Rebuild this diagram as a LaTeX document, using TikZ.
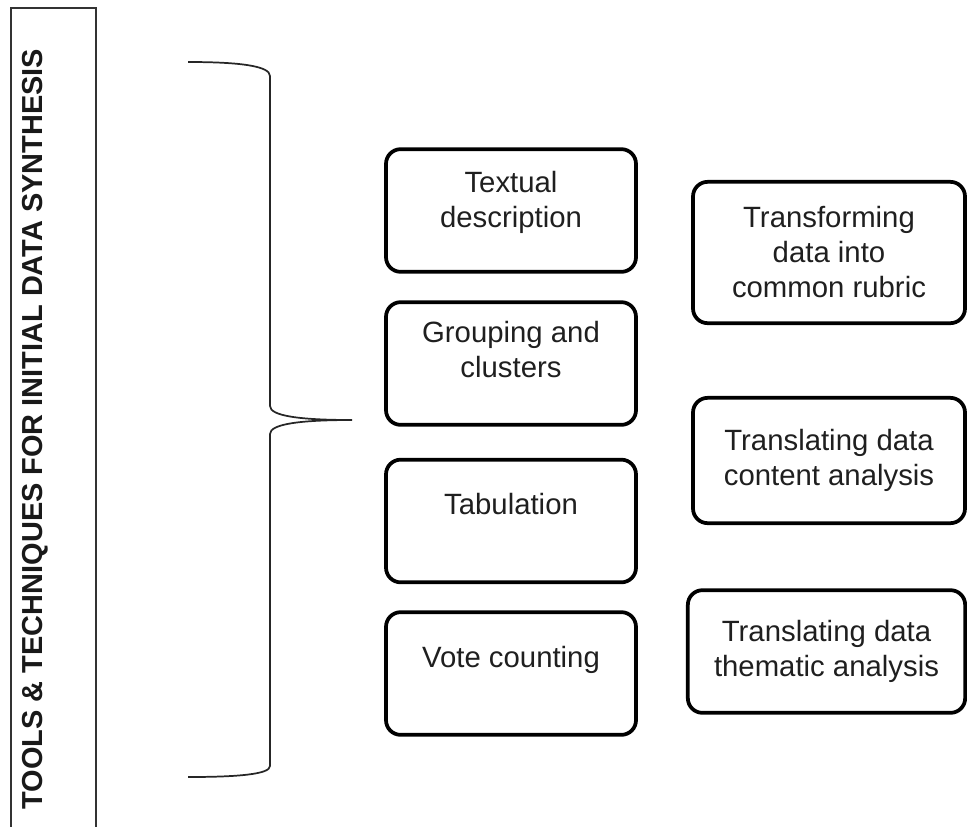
\documentclass[tikz,border=0pt]{standalone}
\usepackage{fontspec}
\setmainfont{Liberation Sans}
\usetikzlibrary{calc}

% text lifted inside a fixed box
\newcommand{\liftup}[2]{\raisebox{#1}[\height][\depth]{\begin{tabular}{@{}c@{}}#2\end{tabular}}}

\begin{document}
\begin{tikzpicture}[x=0.75pt, y=-0.75pt,
    box/.style={draw=black, line width=2.8pt, rounded corners=11pt, align=center,
      inner sep=0pt, text=black!88, font=\fontsize{22}{26.25}\selectfont},
    leftbox/.style={box, minimum width=187.5pt, minimum height=92pt}]
  \useasboundingbox (0,0) rectangle (967,826);

  % title frame
  \draw[line width=1.1pt, draw=black!80] (11,870) -- (11,8) -- (96,8) -- (96,870);
  \node[rotate=90, text=black!90, font=\fontsize{21.7}{26}\selectfont\bfseries] (title) at (35,429)
    {TOOLS \& TECHNIQUES FOR INITIAL DATA SYNTHESIS};

  % brace
  \coordinate (tip) at (352,420);
  \draw[line width=1.3pt, draw=black!85] (188,62) .. controls (240,62) and (270,66) .. (270,76)
    -- (270,406) .. controls (270,416) and (300,420) .. (tip)
    .. controls (300,420) and (270,424) .. (270,434)
    -- (270,766) .. controls (270,774) and (240,777) .. (188,777);

  % left column
  \node[leftbox] (textual) at (511,210.5) {\liftup{6pt}{Textual\\description}};
  \node[leftbox] (grouping) at (511,363.5) {\liftup{8pt}{Grouping and\\clusters}};
  \node[leftbox] (tabulation) at (511,521) {\liftup{10pt}{Tabulation}};
  \node[leftbox] (vote) at (511,673.5) {\liftup{10pt}{Vote counting}};

  % right column
  \node[box, minimum width=204pt, minimum height=106pt] (rubric) at (829,252.5)
    {Transforming\\data into\\common rubric};
  \node[box, minimum width=204pt, minimum height=94pt] (content) at (829,460.5)
    {Translating data\\content analysis};
  \node[box, minimum width=208pt, minimum height=92pt] (thematic) at (826.5,651.5)
    {Translating data\\thematic analysis};
\end{tikzpicture}
\end{document}
